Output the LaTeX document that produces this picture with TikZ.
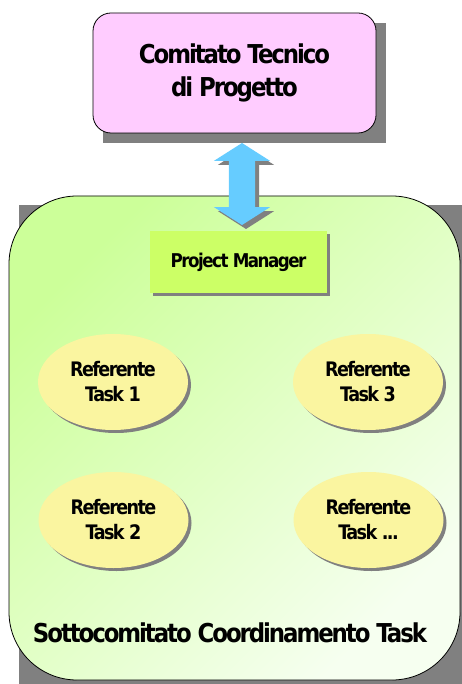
\documentclass[tikz,border=0pt]{standalone}
\usepackage{fontspec}
\newfontfamily\boxfont{DejaVu Sans}[FakeStretch=0.88,LetterSpace=-8]
\usetikzlibrary{shapes.geometric,shapes.arrows,shadows,backgrounds}
\definecolor{ctppink}{HTML}{FFCCFF}
\definecolor{sctgreen}{HTML}{CCFF99}
\definecolor{sctwhite}{HTML}{F6FFF0}
\definecolor{pmgreen}{HTML}{CCFF66}
\definecolor{linkblue}{HTML}{66CCFF}
\definecolor{refyellow}{HTML}{FAF5A0}
\definecolor{shadowgray}{HTML}{808080}
\begin{document}
\begin{tikzpicture}[x=1pt, y=-1pt,
  every node/.style={inner sep=0pt, align=center},
  flatshadow/.style={drop shadow={shadow xshift=#1, shadow yshift=-#1, fill=shadowgray, opacity=1}},
  ctpbox/.style={draw=black, line width=0.8pt, fill=ctppink, rounded corners=18pt,
    minimum width=283pt, minimum height=120pt,
    font=\boxfont\bfseries\fontsize{26}{33}\selectfont},
  sctbox/.style={draw=black, line width=0.8pt, rounded corners=68pt,
    top color=sctgreen, bottom color=sctwhite, shading angle=45,
    minimum width=451pt, minimum height=484pt},
  pmbox/.style={fill=pmgreen, flatshadow=3pt, minimum width=177pt, minimum height=62pt,
    font=\boxfont\bfseries\fontsize{19}{23}\selectfont},
  refbox/.style={ellipse, fill=refyellow, flatshadow=3pt, minimum width=150pt, minimum height=96pt,
    font=\boxfont\bfseries\fontsize{20}{25}\selectfont},
  linkarrow/.style={double arrow, rotate=90, fill=linkblue, flatshadow=4pt,
    inner xsep=0pt, inner ysep=13pt, minimum height=82pt,
    double arrow head extend=15pt, double arrow tip angle=115}]
\useasboundingbox (0,0) rectangle (462,684);
% committees
\node[ctpbox] (ctp) at (234.5,73) {Comitato Tecnico\\di Progetto};
\node[sctbox] (sct) at (234.5,438) {};
\node[font=\boxfont\bfseries\fontsize{26}{32}\selectfont] (sctlabel) at (230,633) {Sottocomitato Coordinamento Task};
\begin{scope}[on background layer]
\fill[shadowgray] ([shift={(10,10)}]ctp.north west) rectangle ([shift={(10,10)}]ctp.south east);
\fill[shadowgray] ([shift={(10,9)}]sct.north west) rectangle ([shift={(10,9)}]sct.south east);
\end{scope}
% project manager and link
\node[pmbox] (pm) at (238.5,262) {Project Manager};
\node[linkarrow] (link) at (242,184) {};
% task referents
\node[refbox] (rt1) at (113,382) {Referente\\Task 1};
\node[refbox] (rt3) at (368,382) {Referente\\Task 3};
\node[refbox] (rt2) at (113.5,520) {Referente\\Task 2};
\node[refbox] (rtn) at (368.5,520) {Referente\\Task ...};
\end{tikzpicture}
\end{document}
